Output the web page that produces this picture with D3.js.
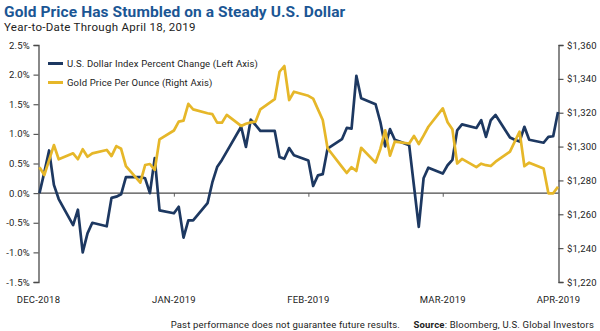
<!DOCTYPE html>
<html>
<head>
<meta charset="utf-8">
<script src="https://cdn.jsdelivr.net/npm/d3@7/dist/d3.min.js"></script>
<style>
  html, body { margin: 0; padding: 0; background: #fff; }
  svg { display: block; font-family: Roboto, "Open Sans", sans-serif; }
</style>
</head>
<body>
<svg id="chart" width="600" height="331"></svg>
<script>
// Trading days, year-to-date through April 18, 2019
const tradingDays = [
  "2018-12-31","2019-01-01","2019-01-02","2019-01-03","2019-01-04",
  "2019-01-07","2019-01-08","2019-01-09","2019-01-10","2019-01-11",
  "2019-01-14","2019-01-15","2019-01-16","2019-01-17","2019-01-18",
  "2019-01-21","2019-01-22","2019-01-23","2019-01-24","2019-01-25",
  "2019-01-28","2019-01-29","2019-01-30","2019-01-31","2019-02-01",
  "2019-02-04","2019-02-05","2019-02-06","2019-02-07","2019-02-08",
  "2019-02-11","2019-02-12","2019-02-13","2019-02-14","2019-02-15",
  "2019-02-18","2019-02-19","2019-02-20","2019-02-21","2019-02-22",
  "2019-02-25","2019-02-26","2019-02-27","2019-02-28","2019-03-01",
  "2019-03-04","2019-03-05","2019-03-06","2019-03-07","2019-03-08",
  "2019-03-11","2019-03-12","2019-03-13","2019-03-14","2019-03-15",
  "2019-03-18","2019-03-19","2019-03-20","2019-03-21","2019-03-22",
  "2019-03-25","2019-03-26","2019-03-27","2019-03-28","2019-03-29",
  "2019-04-01","2019-04-02","2019-04-03","2019-04-04","2019-04-05",
  "2019-04-08","2019-04-09","2019-04-10","2019-04-11","2019-04-12",
  "2019-04-15","2019-04-16","2019-04-17","2019-04-18"
];

// U.S. Dollar Index, percent change since year end (left axis)
const dollarPct = [
  0.00, 0.35, 0.72, 0.14, -0.10,
  -0.54, -0.28, -1.00, -0.68, -0.50,
  -0.56, -0.08, -0.06, -0.02, 0.27,
  0.27, 0.25, 0.00, 0.59, -0.29,
  -0.34, -0.23, -0.75, -0.46, -0.46,
  -0.17, 0.18, 0.44, 0.56, 0.70,
  1.12, 0.78, 1.24, 1.15, 1.05,
  1.05, 0.61, 0.58, 0.76, 0.64,
  0.55, 0.12, 0.30, 0.32, 0.75,
  0.91, 1.10, 1.09, 1.98, 1.60,
  1.50, 1.20, 0.79, 1.08, 0.90,
  0.81, 0.12, -0.57, 0.25, 0.43,
  0.33, 0.47, 0.56, 1.06, 1.16,
  1.10, 1.23, 0.95, 1.23, 1.32,
  0.94, 0.90, 0.87, 1.12, 0.90,
  0.85, 0.95, 0.96, 1.37
];

// Gold price per ounce in USD (right axis)
const goldPrice = [
  1287.8, 1283.2, 1292.0, 1300.9, 1292.5,
  1296.0, 1292.5, 1298.4, 1294.0, 1296.0,
  1298.0, 1294.4, 1300.3, 1298.7, 1288.5,
  1278.7, 1289.1, 1289.7, 1286.2, 1304.3,
  1309.5, 1314.7, 1315.3, 1325.2, 1322.0,
  1319.7, 1319.2, 1314.1, 1314.1, 1318.7,
  1312.2, 1313.5, 1314.3, 1314.7, 1322.0,
  1328.0, 1344.2, 1347.6, 1327.5, 1332.4,
  1330.0, 1328.3, 1322.0, 1315.7, 1299.0,
  1288.0, 1284.4, 1287.8, 1285.6, 1299.3,
  1290.5, 1298.6, 1309.6, 1294.6, 1302.9,
  1301.8, 1306.3, 1301.5, 1306.5, 1311.7,
  1322.6, 1314.4, 1310.2, 1290.0, 1292.7,
  1287.9, 1289.9, 1289.0, 1288.5, 1291.1,
  1297.0, 1303.0, 1308.8, 1288.4, 1290.5,
  1287.0, 1272.4, 1272.4, 1276.3
];

const leftTicks = [-1.5, -1.0, -0.5, 0.0, 0.5, 1.0, 1.5, 2.0, 2.5];
const rightTicks = [1220, 1240, 1260, 1280, 1300, 1320, 1340, 1360];
const dateTicks = ["2018-12-31", "2019-01-28", "2019-02-25", "2019-03-25", "2019-04-18"];
const dateTickLabels = ["DEC-2018", "JAN-2019", "FEB-2019", "MAR-2019", "APR-2019"];

const seriesNames = [
  "U.S. Dollar Index Percent Change (Left Axis)",
  "Gold Price Per Ounce (Right Axis)"
];

const NAVY = "#1d3861";
const GOLD = "#e6b729";
const AXIS = "#4a4a4a";
const TEXT = "#222";

const svg = d3.select("#chart");
const parse = d3.utcParse("%Y-%m-%d");
const dates = tradingDays.map(parse);

const plot = { left: 38.5, right: 558.5, top: 45, bottom: 282 };

const x = d3.scaleUtc()
  .domain([parse(tradingDays[0]), parse(tradingDays[tradingDays.length - 1])])
  .range([39.5, 558]);
const yL = d3.scaleLinear().domain([-1.5, 2.5]).range([plot.bottom, plot.top]);
const yR = d3.scaleLinear().domain([1220, 1360]).range([plot.bottom, plot.top]);

// Title block
svg.append("text")
  .attr("x", 4).attr("y", 16.5)
  .attr("font-size", 15.5).attr("font-weight", 700)
  .attr("letter-spacing", 0.1)
  .attr("fill", "#1b5694")
  .text("Gold Price Has Stumbled on a Steady U.S. Dollar");
svg.append("text")
  .attr("x", 4).attr("y", 30.5)
  .attr("font-size", 11.5).attr("fill", TEXT)
  .attr("letter-spacing", 0.3)
  .text("Year-to-Date Through April 18, 2019");

// Left axis
const gL = svg.append("g")
  .attr("transform", `translate(${plot.left},0)`)
  .call(d3.axisLeft(yL).tickValues(leftTicks)
    .tickFormat(d => d.toFixed(1) + "%")
    .tickSize(5).tickPadding(3.5));

// Right axis
const gR = svg.append("g")
  .attr("transform", `translate(${plot.right},0)`)
  .call(d3.axisRight(yR).tickValues(rightTicks)
    .tickFormat(d3.format("$,.0f"))
    .tickSize(5).tickPadding(3.5));

[gL, gR].forEach(g => {
  g.select(".domain").attr("stroke", AXIS).attr("stroke-width", 1.3);
  g.selectAll(".tick line").attr("stroke", AXIS).attr("stroke-width", 1.1);
  g.selectAll(".tick text").attr("fill", TEXT).attr("font-size", 9.5)
    .attr("letter-spacing", 0.2)
    .attr("font-family", "Roboto, sans-serif");
});

// Date axis: labels along the bottom, small ticks under the zero line
const gX = svg.append("g")
  .attr("transform", `translate(0,${yL(0)})`)
  .call(d3.axisBottom(x)
    .tickValues(dateTicks.slice(1, -1).map(parse))
    .tickSize(3.5).tickFormat(""));
gX.select(".domain").remove();
gX.selectAll(".tick line").attr("stroke", "#777").attr("stroke-width", 1.2);

svg.append("g").selectAll("text")
  .data(dateTicks)
  .join("text")
  .attr("x", (d, i) => i === 0 ? plot.left : (i === dateTicks.length - 1 ? plot.right : x(parse(d))))
  .attr("y", 302.5)
  .attr("text-anchor", "middle")
  .attr("font-size", 9.5).attr("fill", TEXT)
  .attr("letter-spacing", 0.2)
  .text((d, i) => dateTickLabels[i]);

// Zero line on the percent axis
svg.append("line")
  .attr("x1", plot.left).attr("x2", plot.right)
  .attr("y1", yL(0)).attr("y2", yL(0))
  .attr("stroke", AXIS).attr("stroke-width", 1.3);

// Series lines
const dollarLine = d3.line().x((d, i) => x(dates[i])).y(d => yL(d));
const goldLine = d3.line().x((d, i) => x(dates[i])).y(d => yR(d));

svg.append("path")
  .datum(dollarPct)
  .attr("d", dollarLine)
  .attr("fill", "none").attr("stroke", NAVY)
  .attr("stroke-width", 2.7).attr("stroke-linejoin", "round");

svg.append("path")
  .datum(goldPrice)
  .attr("d", goldLine)
  .attr("fill", "none").attr("stroke", GOLD)
  .attr("stroke-width", 2.7).attr("stroke-linejoin", "round");

// Legend
const legend = svg.append("g");
[NAVY, GOLD].forEach((c, i) => {
  const yy = 63.5 + i * 19;
  legend.append("line")
    .attr("x1", 48).attr("x2", 63).attr("y1", yy).attr("y2", yy)
    .attr("stroke", c).attr("stroke-width", 3);
  legend.append("text")
    .attr("x", 67).attr("y", yy + 3.3)
    .attr("font-size", 9.5).attr("fill", TEXT)
    .attr("letter-spacing", 0.15)
    .text(seriesNames[i]);
});

// Footer
svg.append("text")
  .attr("x", 400).attr("y", 328).attr("text-anchor", "end")
  .attr("font-size", 9.5).attr("fill", TEXT)
  .attr("letter-spacing", 0.17)
  .text("Past performance does not guarantee future results.");
const src = svg.append("text")
  .attr("x", 594).attr("y", 328).attr("text-anchor", "end")
  .attr("font-size", 9.5).attr("fill", TEXT)
  .attr("letter-spacing", 0.2);
src.append("tspan").attr("font-weight", 700).text("Source");
src.append("tspan").text(": Bloomberg, U.S. Global Investors");
</script>
</body>
</html>
